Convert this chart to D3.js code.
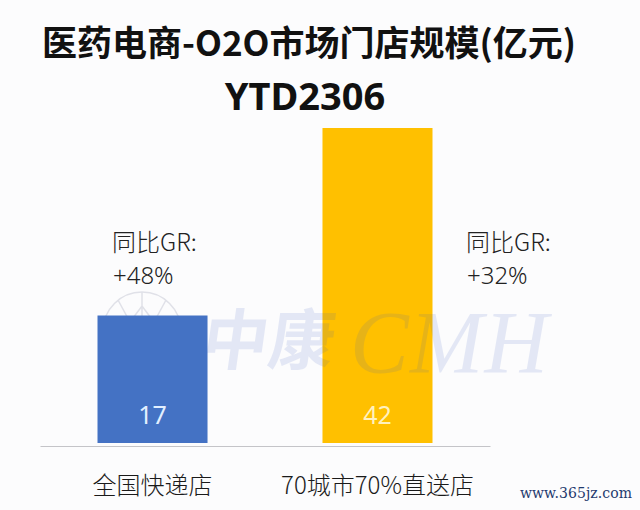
<!DOCTYPE html>
<html><head><meta charset="utf-8">
<script src="https://cdn.jsdelivr.net/npm/d3@7"></script>
<style>
html,body{margin:0;padding:0;background:#fcfcfd;}
svg{display:block;}
</style></head>
<body>
<svg id="chart" width="640" height="510"></svg>
<script>
const titleLines = ["医药电商-O2O市场门店规模(亿元)", "YTD2306"];
const categories = ["全国快递店", "70城市70%直送店"];
const values = [17, 42];
const growthLabels = ["+48%", "+32%"];
const growthPrefix = "同比GR:";
const colors = ["#4472C4", "#FFC000"];
const valueColors = ["#e2efff", "#fff1bf"];

const svg = d3.select("#chart");
svg.append("rect").attr("width",640).attr("height",510).attr("fill","#fcfcfd");

const x = d3.scaleBand().domain(categories).range([40, 490]).paddingInner(0.511).paddingOuter(0.2556);
const y = d3.scaleLinear().domain([0, 42]).range([443, 128]);

// title
svg.append("text").attr("x", 309).attr("y", 56).attr("text-anchor","middle")
  .attr("font-family","'Noto Sans CJK SC', 'Noto Sans', sans-serif").attr("font-weight","bold")
  .attr("font-size", 35).attr("fill","#111").text(titleLines[0]);
svg.append("text").attr("x", 305).attr("y", 110).attr("text-anchor","middle")
  .attr("font-family","'Noto Sans', 'Noto Sans CJK SC', sans-serif").attr("font-weight","bold")
  .attr("font-size", 38).attr("fill","#111").text(titleLines[1]);

// watermark logo (behind bars)
const logo = svg.append("g").attr("fill","none").attr("stroke","#e0e1e8").attr("stroke-width",1.5);
logo.append("circle").attr("cx",142).attr("cy",331).attr("r",39);
logo.append("path").attr("d","M103,331 L181,331 M142,292 L142,331 M118,300 L130,322 L142,306 L154,322 L166,300");

// bars
svg.selectAll("rect.bar").data(values).join("rect").attr("class","bar")
  .attr("x",(d,i)=>x(categories[i])).attr("width",x.bandwidth())
  .attr("y",d=>y(d)).attr("height",d=>y(0)-y(d))
  .attr("fill",(d,i)=>colors[i]);

// axis
const axis = svg.append("g").attr("transform","translate(0,446)").call(d3.axisBottom(x).tickSize(0).tickPadding(40));
axis.select(".domain").attr("stroke","#c4c4c8").attr("stroke-width",1.2);
axis.selectAll(".tick text").attr("font-family","'Noto Sans CJK SC', sans-serif")
  .attr("font-size",24).attr("fill","#1a1a1a").attr("font-weight",300).attr("dy","0.32em");

// value labels
svg.selectAll("text.val").data(values).join("text").attr("class","val")
  .attr("x",(d,i)=>x(categories[i])+x.bandwidth()/2).attr("y",424)
  .attr("text-anchor","middle").attr("font-family","'Noto Sans', sans-serif")
  .attr("font-size",25).attr("fill",(d,i)=>valueColors[i]).text(d=>d);

// growth labels
const gPos = [[112, 251], [466, 251]];
growthLabels.forEach((g,i)=>{
  svg.append("text").attr("font-family","'Noto Sans CJK SC', sans-serif")
    .attr("font-size",24).attr("font-weight",300).attr("fill","#222")
    .attr("x",gPos[i][0]).attr("y",gPos[i][1]).text(growthPrefix);
  svg.append("text").attr("font-family","'Noto Sans', sans-serif")
    .attr("font-size",24).attr("font-weight",300).attr("fill","#222")
    .attr("x",gPos[i][0]+1).attr("y",gPos[i][1]+33).text(g);
});

// watermark text
const wm = svg.append("g").attr("opacity",0.12).attr("fill","#3a5bc0");
wm.append("text").attr("x",203).attr("y",364).attr("font-family","'Noto Sans CJK SC', sans-serif")
  .attr("font-weight","bold").attr("font-size",66).attr("transform","skewX(-8) translate(48,0)").text("中康");
wm.append("text").attr("x",350).attr("y",372).attr("font-family","'Liberation Serif', serif")
  .attr("font-style","italic").attr("font-size",88).attr("textLength",198).text("CMH");

// site mark
svg.append("text").attr("x",520).attr("y",498).attr("font-family","'DejaVu Serif', serif")
  .attr("font-size",14).attr("fill","#1f3a6e").attr("textLength",112).text("www.365jz.com");
</script>
</body></html>
